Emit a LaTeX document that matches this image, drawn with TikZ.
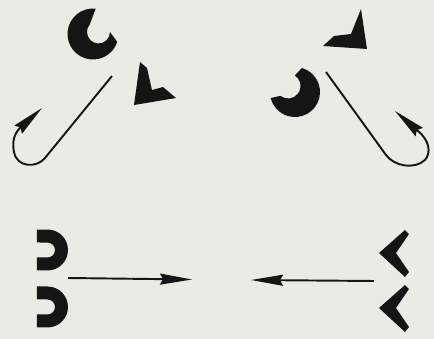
\documentclass[tikz,border=0pt]{standalone}
\usetikzlibrary{
    calc,
    arrows.meta
}
\definecolor{paper}{HTML}{EBEBE6}
\definecolor{ink}{HTML}{151515}
\tikzset{
  every path/.style={
    ink,
    line width=1.1pt
  },
  blob/.style={
    fill=ink,
    draw=none
  }
}

\begin{document}
\begin{tikzpicture}[x=0.02cm,y=0.02cm,>={Stealth[length=0.64cm,width=0.22cm,inset=0.06cm]}]

    % 背景
    \useasboundingbox (0,0) rectangle (434,339);
    \fill[paper] (0,0) rectangle (434,339);

    % 左上の欠けた輪
    \coordinate (ringA) at (93,305);
    \coordinate (holeA) at (98.5,307);
    \fill[blob] ($(ringA)+(84:25.5)$) arc[start angle=84, end angle=342, radius=25.5]
        -- ($(holeA)+(0:11.5)$) arc[start angle=360, end angle=140, radius=11.5] -- cycle;

    % 左上のくさび
    \fill[blob] (140,277) -- (147,271) -- (152,249) -- (163,252)
        -- (176,241) -- (134,234) -- cycle;

    % 右上の欠けた輪
    \coordinate (ringB) at (295,247);
    \coordinate (holeB) at (288,253);
    \fill[blob] ($(ringB)+(74:25)$) arc[start angle=74, end angle=-166, radius=25]
        -- ($(holeB)+(-128:12.5)$) arc[start angle=-128, end angle=57, radius=12.5] -- cycle;

    % 右上のくさび
    \fill[blob] (361,330) -- (367,290) -- (323,293) -- (334,303)
        -- (351,305) -- cycle;

    % 釣り針状の矢印
    \coordinate (hookA-start) at (112,263);
    \coordinate (hookA-end) at (42,231);
    \draw[->] (hookA-start) -- (45,181)
        .. controls (37,171) and (17,171) .. (14,187)
        .. controls (12,197) and (14,205) .. (20,211) -- (hookA-end);

    \coordinate (hookB-start) at (326,267);
    \coordinate (hookB-end) at (395,228);
    \draw[->] (hookB-start) -- (386,184)
        .. controls (394,173) and (414,169) .. (425,179)
        .. controls (431,186) and (430,198) .. (418,208) -- (hookB-end);

    % 左下の半円
    \foreach \cy in {89,32}{
        \fill[blob] (37,\cy+20.5) -- (47.5,\cy+20.5)
            arc[start angle=90, end angle=-90, radius=20.5]
            -- (37,\cy-20.5) -- (37,\cy-7.5) -- (47.5,\cy-7.5)
            arc[start angle=-90, end angle=90, radius=7.5]
            -- (37,\cy+7.5) -- cycle;
    }

    % 右下のくさび
    \foreach \dy in {0,-55}{
        \fill[blob] (379,86+\dy) -- (405,109+\dy) -- (409,105+\dy)
            -- (396,86+\dy) -- (409,67+\dy) -- (405,62+\dy) -- cycle;
    }

    % 水平の矢印
    \coordinate (pairA) at (68,61);
    \coordinate (aimA) at (192,59.5);
    \draw[->] (pairA) -- (aimA);

    \coordinate (pairB) at (374,58);
    \coordinate (aimB) at (251,59);
    \draw[->] (pairB) -- (aimB);

\end{tikzpicture}
\end{document}
